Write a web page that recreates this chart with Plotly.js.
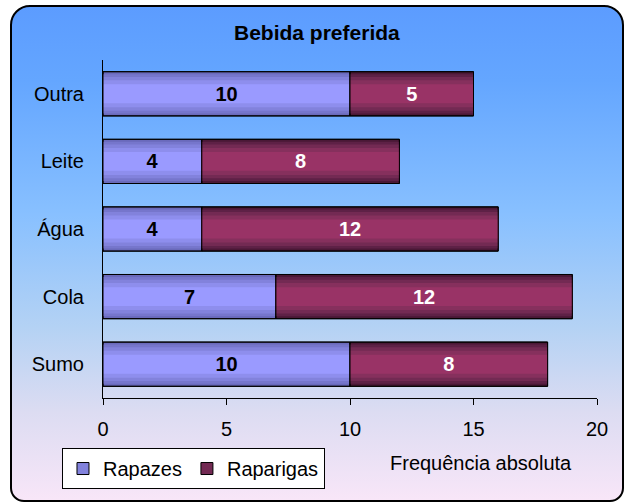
<!DOCTYPE html>
<html>
<head>
<meta charset="utf-8">
<script src="https://cdn.plot.ly/plotly-3.0.1.min.js"></script>
<style>
  html, body { margin: 0; padding: 0; background: #ffffff; }
  #wrap { position: relative; width: 625px; height: 503px; overflow: hidden; }
  #bg {
    position: absolute; left: 10px; top: 5px; width: 610px; height: 493px;
    border: 2px solid #000; border-radius: 20px 20px 14px 14px;
    background: linear-gradient(to bottom, #5c9cff 0%, #64a6ff 15%, #88c0ff 42%, #b4d2f4 65%, #dcdcf2 82%, #f8e6f8 100%);
  }
  #chart { position: absolute; left: 0; top: 0; width: 625px; height: 503px; }
</style>
</head>
<body>
<div id="wrap">
  <div id="bg"></div>
  <div id="chart"></div>
</div>
<script>
// Data
const categories = ["Sumo", "Cola", "Água", "Leite", "Outra"];
const rapazes = [10, 7, 4, 4, 10];
const raparigas = [8, 12, 12, 8, 5];
const seriesNames = ["Rapazes", "Raparigas"];
const xTicks = [0, 5, 10, 15, 20];

// Styling (shaded bar layers: widest = darkest edge)
const layerWidths = [0.654, 0.58, 0.5, 0.4, 0.28];
const rapazesShades = ["#6a6abb", "#7676cc", "#8282dc", "#8e8eed", "#9a9aff"];
const raparigasShades = ["#4a1836", "#5e2146", "#732a53", "#86305d", "#993366"];

const font = "Liberation Sans, Arial, sans-serif";
const traces = [];

function addSeries(name, values, bases, shades, textColor) {
  layerWidths.forEach((w, i) => {
    traces.push({
      type: "bar", orientation: "h", name: name, legendgroup: name,
      y: categories, x: values, base: bases,
      width: w,
      marker: { color: shades[i], line: { width: i === 0 ? 1 : 0, color: "#000" } },
      showlegend: false, hoverinfo: "skip"
    });
  });
  traces.push({
    type: "bar", orientation: "h", name: name, legendgroup: name,
    y: categories, x: values, base: bases, width: layerWidths[0],
    marker: { color: "rgba(0,0,0,0)", line: { width: 1, color: "#000" } },
    text: values.map(String), textposition: "inside", insidetextanchor: "middle",
    textfont: { family: font, size: 20, color: textColor, weight: "bold" },
    showlegend: false
  });
  // legend entry (no visible data, carries series name & colour)
  traces.push({
    type: "bar", orientation: "h", name: name, legendgroup: name,
    y: [null], x: [null],
    marker: { color: shades[2], line: { width: 1, color: "#000" } },
    showlegend: true
  });
}

addSeries(seriesNames[0], rapazes, categories.map(() => 0), rapazesShades, "#000000");
addSeries(seriesNames[1], raparigas, rapazes.slice(), raparigasShades, "#ffffff");

const layout = {
  width: 625, height: 503,
  margin: { l: 103, r: 28, t: 60, b: 105 },
  paper_bgcolor: "rgba(0,0,0,0)",
  plot_bgcolor: "rgba(0,0,0,0)",
  barmode: "overlay",
  font: { family: font, size: 20, color: "#000" },
  title: {
    text: "<b>Bebida preferida</b>",
    font: { family: font, size: 21, color: "#000" },
    xref: "container", x: 0.507, xanchor: "center",
    yref: "container", y: 0.936, yanchor: "middle"
  },
  xaxis: {
    range: [0, 20], tickvals: xTicks, ticktext: xTicks.map(String),
    showgrid: false, zeroline: false,
    showline: true, linecolor: "#000", linewidth: 1,
    ticks: "outside", ticklen: 6, tickcolor: "#000", tickwidth: 1,
    ticklabelstandoff: 7,
    tickfont: { family: font, size: 20, color: "#000" },
    fixedrange: true
  },
  yaxis: {
    categoryorder: "array", categoryarray: categories,
    range: [-0.5, 4.5],
    showgrid: false, zeroline: false,
    showline: true, linecolor: "#000", linewidth: 1,
    ticks: "", ticklabelstandoff: 14,
    tickfont: { family: font, size: 20, color: "#000" },
    fixedrange: true
  },
  legend: {
    orientation: "h", x: -0.083, xanchor: "left", y: -0.148, yanchor: "top",
    bgcolor: "#ffffff", bordercolor: "#000", borderwidth: 1,
    font: { family: font, size: 20, color: "#000" },
    itemwidth: 30, traceorder: "normal"
  },
  annotations: [{
    text: "Frequência absoluta", showarrow: false,
    xref: "paper", yref: "paper", x: 0.765, y: -0.192,
    xanchor: "center", yanchor: "middle",
    font: { family: font, size: 20, color: "#000" }
  }],
  showlegend: true
};

Plotly.newPlot("chart", traces, layout, { displayModeBar: false, staticPlot: true });
</script>
</body>
</html>
